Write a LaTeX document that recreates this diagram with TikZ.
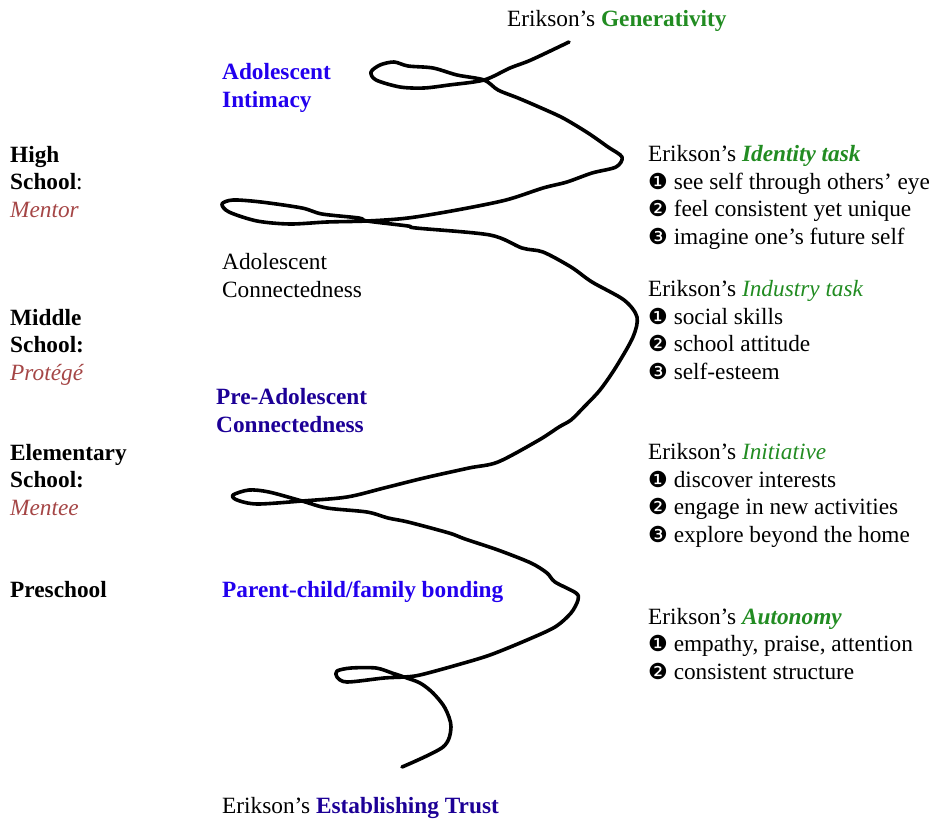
\documentclass[tikz,border=0pt]{standalone}
\usepackage{fontspec}
\setmainfont{Liberation Serif}
\newfontfamily\dingfont{DejaVu Sans}
\definecolor{erikgreen}{RGB}{34,140,34}
\definecolor{bondblue}{RGB}{34,0,238}
\definecolor{deepblue}{RGB}{28,0,150}
\definecolor{rolered}{RGB}{165,70,70}
\newcommand{\dingone}{{\dingfont\fontsize{22}{27.4}\selectfont ❶}}
\newcommand{\dingtwo}{{\dingfont\fontsize{22}{27.4}\selectfont ❷}}
\newcommand{\dingthree}{{\dingfont\fontsize{22}{27.4}\selectfont ❸}}
\tikzset{
  txt/.style={anchor=base west, inner sep=0pt, align=left},
}
\begin{document}
\begin{tikzpicture}[x=1pt,y=-1pt]
                \useasboundingbox (0,0) rectangle (935,819);
                {\fontsize{23.3}{27.4}\selectfont

                % Drawing spiral
                \draw [line width=3.6pt, line cap=round, line join=round] plot [smooth, tension=0.5] coordinates {
                  (569,42) (531,60) (510,68) (484,80) (449,85) (424,88) (400,87) (376,80) (371,72)
                  (380,65) (394,62) (408,66) (433,68) (457,75) (484,80) (498,90) (518,98) (539,107)
                  (563,118) (588,133) (608,147) (622,157) (616,167) (592,173) (567,182) (543,188)
                  (506,200) (457,210) (408,218) (367,221) (327,222) (290,224) (257,221) (229,212)
                  (222,204) (233,200) (261,202) (302,208) (322,214) (359,218) (367,221) (408,226)
                  (416,228) (490,235) (522,248) (543,252) (571,267) (592,282) (624,300) (637,317)
                  (633,337) (616,367) (600,390) (584,407) (571,420) (559,427) (539,440) (498,462)
                  (469,468) (424,478) (384,488) (347,497) (302,501) (257,504) (237,500) (233,495)
                  (249,490) (269,492) (302,501) (327,508) (367,512) (388,518) (408,522) (449,533)
                  (465,539) (498,550) (531,563) (547,573) (555,582) (576,593) (578,600) (571,613)
                  (555,627) (527,640) (490,655) (457,665) (420,675) (404,677) (384,678) (347,682)
                  (337,677) (337,671) (351,668) (376,668) (392,673) (404,677) (420,683) (433,693)
                  (445,708) (451,727) (443,747) (402,767)};%

                % Marking school levels (anchored at last baseline)
                \draw (10,217) node (high) [txt] {\textbf{High}\\\textbf{School}:\\\textcolor{rolered}{\textit{Mentor}}};%
                \draw (10,380) node (middle) [txt] {\textbf{Middle}\\\textbf{School:}\\\textcolor{rolered}{\textit{Protégé}}};%
                \draw (10,515) node (elementary) [txt] {\textbf{Elementary}\\\textbf{School:}\\\textcolor{rolered}{\textit{Mentee}}};%
                \draw (10,597) node (preschool) [txt] {\textbf{Preschool}};%

                % Marking connectedness stages
                \draw (222,107) node (intimacy) [txt, text=bondblue, font=\bfseries] {Adolescent\\Intimacy};%
                \draw (222,297) node (adolconn) [txt] {Adolescent\\Connectedness};%
                \draw (216,432) node (preadol) [txt, text=deepblue, font=\bfseries] {Pre-Adolescent\\Connectedness};%
                \draw (222,597) node (bonding) [txt, text=bondblue, font=\bfseries] {Parent-child/family bonding};%

                % Marking Erikson tasks
                \draw (507,26) node (generativity) [txt] {Erikson’s \textcolor{erikgreen}{\textbf{Generativity}}};%
                \draw (648,244) node (identity) [txt] {Erikson’s \textcolor{erikgreen}{\textbf{\textit{Identity task}}}\\
                  \dingone{} see self through others’ eye\\\dingtwo{} feel consistent yet unique\\\dingthree{} imagine one’s future self};%
                \draw (648,379) node (industry) [txt] {Erikson’s \textcolor{erikgreen}{\textit{Industry task}}\\
                  \dingone{} social skills\\\dingtwo{} school attitude\\\dingthree{} self-esteem};%
                \draw (648,542) node (initiative) [txt] {Erikson’s \textcolor{erikgreen}{\textit{Initiative}}\\
                  \dingone{} discover interests\\\dingtwo{} engage in new activities\\\dingthree{} explore beyond the home};%
                \draw (648,679) node (autonomy) [txt] {Erikson’s \textcolor{erikgreen}{\textbf{\textit{Autonomy}}}\\
                  \dingone{} empathy, praise, attention\\\dingtwo{} consistent structure};%
                \draw (222,813) node (trust) [txt] {Erikson’s \textcolor{deepblue}{\textbf{Establishing Trust}}};%
                }
\end{tikzpicture}
\end{document}
